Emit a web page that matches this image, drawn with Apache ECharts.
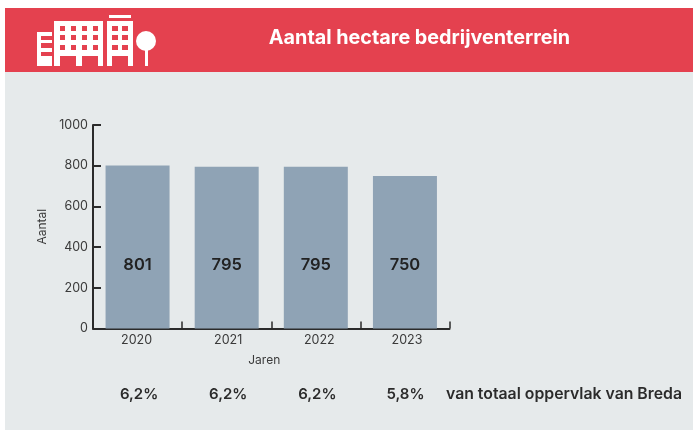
<!DOCTYPE html>
<html><head><meta charset="utf-8">
<style>html,body{margin:0;padding:0;background:#fff}#c{width:693px;height:430px}</style>
<script src="https://cdn.jsdelivr.net/npm/echarts@6/dist/echarts.min.js"></script>
</head><body><div id="c"></div>
<script>
const years=['2020','2021','2022','2023'];
const hectares=[801,795,795,750];
const shares=['6,2%','6,2%','6,2%','5,8%'];
const labelLevel=314;
const titleText='Aantal hectare bedrijventerrein';
const shareNote='van totaal oppervlak van Breda';
const RED='#e4414f',BG='#e6eaeb',BAR='#8fa3b5',DARK='#2b2b2b',FONT='Inter';
const chart=echarts.init(document.getElementById('c'),null,{renderer:'canvas'});
function rect(x,y,w,h,fill,z){return {type:'rect',shape:{x,y,width:w,height:h},style:{fill},z:z||3,silent:true};}
function nudged(base,shift){
  const rich={};
  shift.forEach((d,i)=>{rich['n'+i]=Object.assign({},base,{padding:d>=0?[0,0,0,2*d]:[0,-2*d,0,0]});});
  return rich;
}
const icon=[];
icon.push(rect(37,32,15,34,'#fff'));
[[36,4],[43,5],[52,4]].forEach(a=>icon.push(rect(41,a[0],11,a[1],RED,4)));
icon.push(rect(54,21,49,45,'#fff'));
icon.push(rect(107,21,26,45,'#fff'));
icon.push(rect(109,15,22,3,'#fff'));
[26,35,45].forEach(y=>{
  [60,71,82,93].forEach(x=>icon.push(rect(x,y,5,5,RED,4)));
  [112,122].forEach(x=>icon.push(rect(x,y,6,5,RED,4)));
});
[[60,16],[82,16],[112,16]].forEach(a=>icon.push(rect(a[0],56,a[1],10,RED,4)));
icon.push({type:'circle',shape:{cx:146,cy:41,r:10},style:{fill:'#fff'},z:3,silent:true});
icon.push(rect(145,48,3,18,'#fff'));
const yearStyle={color:'#3a3a3a',fontSize:12.5,fontFamily:FONT};
const shareStyle={color:'#2b2b2b',fontSize:15,fontWeight:600,fontFamily:FONT};
chart.setOption({
  animation:false,
  textStyle:{fontFamily:FONT},
  graphic:[
    rect(5,8,688,422,BG,-10),
    rect(5,8,688,64,RED,-9),
    {type:'text',x:419.5,y:38,style:{text:titleText,fill:'#fff',font:'700 19.8px '+FONT,textAlign:'center',textVerticalAlign:'middle'},z:3,silent:true},
    {type:'text',x:446,y:394.5,style:{text:shareNote,fill:'#2b2b2b',font:'600 15.8px '+FONT,textAlign:'left',textVerticalAlign:'middle'},z:3,silent:true},
    ...icon
  ],
  grid:{left:93,top:125,width:356.5,height:203.5,containLabel:false},
  xAxis:[{
    type:'category',data:years,name:'Jaren',nameLocation:'middle',nameGap:26,
    nameTextStyle:{color:'#3a3a3a',fontSize:12,fontFamily:FONT,padding:[0,14,0,0]},
    axisLine:{show:true,lineStyle:{color:DARK,width:2,cap:'round'}},
    axisTick:{show:true,inside:true,length:7,alignWithLabel:false,lineStyle:{color:DARK,width:1.5}},
    axisLabel:Object.assign({},yearStyle,{margin:5,interval:0,
      formatter:(v,i)=>'{n'+i+'|'+v+'}',rich:nudged(yearStyle,[-1,1.5,3.5,2])}),
    splitLine:{show:false}
  },{
    type:'category',data:shares,position:'bottom',offset:58,
    axisLine:{show:false},axisTick:{show:false},
    axisLabel:Object.assign({},shareStyle,{margin:0,interval:0,
      formatter:(v,i)=>'{n'+i+'|'+v+'}',rich:nudged(shareStyle,[1.5,1.5,1.5,0.5])}),
    splitLine:{show:false}
  }],
  yAxis:{
    type:'value',min:0,max:1000,interval:200,name:'Aantal',nameLocation:'middle',nameGap:41,nameRotate:90,
    nameTextStyle:{color:'#3a3a3a',fontSize:12,fontFamily:FONT},
    axisLine:{show:true,lineStyle:{color:DARK,width:2,cap:'round'}},
    axisTick:{show:true,inside:true,length:8,lineStyle:{color:DARK,width:2}},
    axisLabel:{color:'#3a3a3a',fontSize:12.5,margin:5,fontFamily:FONT,formatter:v=>String(v)},
    splitLine:{show:false}
  },
  series:[{
    type:'bar',data:hectares,barWidth:64,itemStyle:{color:BAR}
  },{
    type:'scatter',symbolSize:0,z:5,silent:true,itemStyle:{opacity:1},
    data:years.map((y,i)=>[i,labelLevel,hectares[i]]),
    encode:{x:0,y:1},
    label:{show:true,position:'inside',color:'#222',fontSize:16.5,fontWeight:600,fontFamily:FONT,opacity:1,
      formatter:p=>String(p.data[2])}
  }]
});
</script></body></html>
